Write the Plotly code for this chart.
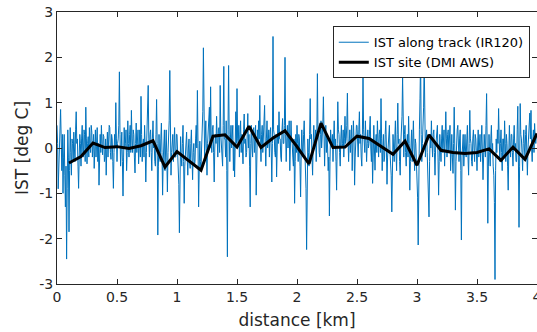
import plotly.graph_objects as go

track_start = 0.0
track_step = 0.005
track_ist = [
    0.5, 0.1, -0.9, -0.3, 0.2, 0.6, 0.85, 0.2, -0.5, 0.3, -1.0, -0.2, 0.3, -0.6, -1.3, -0.4, -2.45, -0.9, 0.4, -0.2,
    -1.85, -0.5, 0.45, -0.1, -0.6, 0.2, 0.1, -0.3, 0.35, 0.0, -0.3, 0.4, 0.8, 0.1, 0.2, -0.4, -0.89, -0.2, 0.3, 0.1,
    -0.4, 0.2, 0.5, -0.1, -0.2, 0.4, 0.3, -0.3, 0.9, 0.2, -0.35, 0.1, 0.25, -0.2, 0.45, 0.0, -0.1, 0.5, 0.35, -0.2,
    0.1, 0.3, -0.45, 0.0, 0.4, -0.2, 0.15, 0.45, -0.3, 0.1, -0.82, -0.2, 0.3, -0.1, 0.5, 0.1, -0.15, 0.3, 0.25, -0.3,
    -0.2, 0.2, -0.6, 0.0, 0.35, -0.2, 0.1, 0.5, 0.45, -0.1, -0.25, 0.3, 0.2, -0.3, -0.89, -0.1, 0.3, 0.0, 1.0, 0.2,
    -0.3, 0.1, 0.2, 0.5, 1.68, 0.3, -0.4, 0.0, 0.35, -0.3, -1.06, -0.2, 0.45, 0.0, 0.1, 0.4, -0.5, -0.1, 0.6, 0.1,
    -0.2, 0.3, 0.5, -0.1, 0.83, 0.2, -0.1, 0.4, 0.3, -0.2, -0.55, 0.1, 0.55, -0.1, 0.2, 0.4, -0.35, 0.0, 0.4, -0.2,
    1.14, 0.3, -0.3, 0.1, 0.2, -0.2, 0.5, 0.0, -0.75, -0.1, 0.3, 0.6, 1.38, 0.2, -0.2, 0.3, 0.4, -0.1, -0.5, 0.2,
    0.6, 0.0, 0.1, -0.3, -0.4, 0.3, 1.07, 0.1, -1.92, -0.4, 0.3, -0.2, -0.3, 0.2, 0.55, -0.1, -1.04, -0.3, 0.2, 0.4,
    -0.5, 0.1, 0.4, -0.2, -0.97, -0.1, 0.3, 0.6, 1.71, 0.2, -0.6, -0.1, 0.1, 0.3, -0.3, 0.1, 0.45, -0.2, -0.2, 0.3,
    0.3, -0.1, -0.5, -0.8, -1.87, -0.3, 0.25, -0.2, -0.4, 0.1, 0.5, -0.3, -1.22, -0.4, -0.1, 0.2, 0.35, -0.2, -0.6, 0.0,
    0.2, -0.3, -0.45, 0.1, 0.4, -0.2, -0.7, -0.1, 0.1, -0.4, -0.3, 0.2, 0.5, 0.0, 1.27, 0.1, -1.3, -0.5, 0.15, -0.3,
    -0.5, 0.0, 0.4, 0.8, 2.21, 0.3, -0.2, 0.2, 0.6, -0.1, -0.6, 0.1, 0.3, 0.5, 0.9, 0.0, 1.35, 0.2, -0.1, 0.4,
    0.5, -0.1, -0.75, 0.0, 0.3, 0.1, 0.7, 0.2, -0.2, 0.4, 0.45, -0.1, 1.38, 0.3, 0.1, -0.2, -0.4, 0.5, 1.8, 0.2,
    0.2, -0.2, 0.6, -0.5, -2.4, 0.4, 1.82, 0.3, -0.3, 0.2, 0.5, 0.0, 0.2, 0.5, -0.5, 0.1, -0.64, 0.2, 0.8, 0.1,
    1.31, 0.2, 0.1, 0.5, -0.2, 0.3, 0.6, -0.1, 0.3, 0.0, -0.35, 0.4, 0.75, 0.1, 0.2, -0.2, -0.1, 0.3, 0.76, 0.0,
    0.3, -0.4, -1.3, 0.1, 0.5, 0.0, -0.2, 0.4, 0.45, -0.1, 0.1, 0.5, -1.04, -0.2, 0.4, 0.1, 0.6, 0.2, 1.16, 0.1,
    -0.3, 0.3, 0.5, -0.1, 0.2, 0.6, 0.94, 0.1, -0.4, 0.2, 0.6, 0.0, 0.1, 0.4, -0.2, 0.3, 0.45, 0.0, -0.75, 0.1,
    2.46, 0.4, 0.3, -0.1, -0.2, 0.3, -0.64, 0.0, 0.5, 0.1, 0.8, 0.2, 0.2, -0.2, -0.3, 0.4, 0.65, 0.1, 0.1, 0.5,
    2.0, 0.3, -0.3, 0.2, 0.5, 0.0, 0.2, 0.6, -0.5, 0.1, 0.6, 0.2, 0.1, -0.2, -0.4, 0.2, -1.22, -0.3, 0.3, -0.1,
    0.5, 0.1, -0.3, 0.3, 0.2, -0.4, -1.08, -0.1, 0.4, 0.0, -0.2, 0.3, 0.6, 0.0, -0.5, -0.9, -2.24, -0.4, 0.2, -0.1,
    -0.4, 0.3, 1.09, 0.2, 0.3, -0.2, -0.6, 0.1, 0.5, 0.0, 0.1, 0.4, -0.3, 0.2, 1.64, 0.3, 0.4, -0.1, -0.2, 0.3,
    0.6, 0.0, 0.2, 0.5, 1.13, 0.1, -0.4, 0.2, 0.5, -0.1, 0.3, 0.0, -0.5, -0.2, -1.5, -0.3, 0.4, 0.1, 0.1, 0.3,
    -0.3, 0.2, 0.6, 0.0, 0.2, -0.3, -0.93, 0.1, 1.02, 0.4, 0.3, -0.1, -0.4, 0.2, 0.5, 0.0, 0.1, 0.4, -0.2, 0.2,
    0.7, 0.1, 0.2, 0.5, 1.21, 0.2, -0.3, 0.1, 0.4, -0.1, 0.1, 0.5, -0.5, 0.0, 0.6, 0.2, -0.82, -0.2, 0.3, 0.5,
    0.5, 0.0, -0.2, 0.4, 0.8, 0.1, 0.3, -0.2, -0.4, 0.3, 1.64, 0.4, 0.2, -0.1, 0.6, 0.2, -0.3, 0.1, 0.4, 0.0,
    0.1, 0.4, 0.7, 0.0, -0.3, 0.2, -0.78, -0.2, 0.5, 0.0, -0.49, 0.1, 0.3, -0.1, 0.6, 0.2, -0.2, 0.3, 0.4, -0.1,
    1.09, 0.2, -0.5, 0.0, 0.3, -0.3, -0.2, 0.3, 0.6, 0.0, -0.8, -0.2, 0.2, 0.5, 0.5, -0.1, -0.4, -0.6, -1.41, -0.2,
    0.3, 0.0, -0.3, 0.2, 0.6, -0.1, -0.5, 0.3, 0.99, 0.1, 0.2, -0.3, -0.6, 0.1, 0.4, 0.7, 1.57, 0.2, -0.2, 0.3,
    0.5, -0.1, -0.4, 0.1, 0.3, -0.2, 0.7, 0.1, -0.93, -0.3, 0.2, 0.4, -0.3, 0.1, 0.6, 0.0, -0.5, 0.2, 0.1, -0.3,
    -0.6, -1.1, -2.14, -0.2, 0.4, 1.1, 2.0, 0.3, -0.3, 0.1, 0.5, 0.9, 1.95, 0.2, -0.2, 0.3, 0.4, -0.1, -0.5, -0.8,
    -1.52, -0.3, 0.3, 0.0, 0.6, 0.1, -0.2, 0.3, 0.4, -0.1, -0.6, 0.0, 0.2, 0.5, 0.5, -0.2, -1.04, -0.3, 0.3, 0.0,
    -0.3, 0.2, 0.5, -0.1, 0.1, 0.4, -0.4, 0.1, 0.8, 0.2, -0.2, 0.3, 0.4, -0.1, 0.1, 0.5, -0.5, 0.0, 0.3, -0.2,
    -0.56, 0.1, 0.9, 0.0, -1.37, -0.3, 0.2, 0.4, 0.5, -0.1, -0.3, 0.2, 0.4, -0.5, -2.03, -0.2, 0.1, 0.3, -0.4, 0.1,
    0.3, -0.1, -0.2, 0.2, 0.5, -0.2, -0.6, 0.1, 0.83, 0.2, 0.1, -0.3, -0.4, 0.2, 0.4, 0.0, -0.3, 0.3, 0.2, -0.1,
    -0.5, 0.0, 0.4, -0.2, 0.1, 0.3, -0.3, 0.2, 0.5, -0.1, -0.7, -0.2, 0.3, 0.0, -0.2, 0.5, 1.2, 0.0, -1.66, -0.4,
    0.3, -0.1, -0.4, 0.2, 0.5, -0.1, 0.1, -0.4, -0.6, -1.2, -2.9, -0.5, 0.2, -0.1, 0.4, 0.1, 0.87, 0.2, -0.3, 0.1,
    0.4, -0.1, -0.5, 0.2, 0.2, -0.2, 0.6, 0.1, -0.3, 0.3, 0.1, -0.4, -0.93, -0.1, 0.5, 0.0, -0.2, 0.3, 0.3, -0.1,
    -0.4, 0.2, 0.5, 0.0, 0.1, -0.3, -0.3, 0.4, 0.92, -0.2, -1.75, -0.4, 0.98, 0.3, 0.2, -0.1, -0.5, 0.1, 0.4, 0.0,
    -0.2, 0.3, 0.5, -0.1, -0.6, 0.0, 0.3, 0.5, 0.77, 0.2, 0.83, 0.0, -0.3, 0.2, 0.4, -0.1, 0.54, 0.2, 0.1, 0.3,
]
track_km = [round(track_start + i * track_step, 4) for i in range(len(track_ist))]

# black series: station IST
site_km = [0.1, 0.2, 0.3, 0.4, 0.5, 0.6, 0.7, 0.8, 0.9, 1.0, 1.2, 1.3, 1.4, 1.5,
           1.6, 1.7, 1.8, 1.9, 2.0, 2.1, 2.2, 2.3, 2.4, 2.5, 2.6, 2.7, 2.8, 2.9,
           3.0, 3.1, 3.2, 3.3, 3.4, 3.5, 3.6, 3.7, 3.8, 3.9, 4.0]
site_ist = [-0.33, -0.19, 0.11, 0.01, 0.03, -0.01, 0.05, 0.16, -0.42, -0.08,
            -0.49, 0.26, 0.29, 0.02, 0.48, 0.01, 0.22, 0.38, 0.03, -0.35,
            0.55, 0.01, 0.02, 0.26, 0.21, 0.04, -0.14, 0.15, -0.38, 0.29,
            -0.05, -0.1, -0.12, -0.1, -0.02, -0.27, 0.02, -0.25, 0.32]

x_ticks = [0, 0.5, 1, 1.5, 2, 2.5, 3, 3.5, 4]
x_tick_labels = ["0", "0.5", "1", "1.5", "2", "2.5", "3", "3.5", "4"]
y_ticks = [-3, -2, -1, 0, 1, 2, 3]
y_tick_labels = ["-3", "-2", "-1", "0", "1", "2", "3"]

AX = "#262626"
FONT = "DejaVu Sans"

fig = go.Figure()
fig.add_trace(go.Scatter(x=track_km, y=track_ist, mode="lines",
                         name="IST along track (IR120)",
                         line=dict(color="#0072BD", width=1)))
fig.add_trace(go.Scatter(x=site_km, y=site_ist, mode="lines",
                         name="IST site (DMI AWS)",
                         line=dict(color="#000000", width=3)))

axis_common = dict(showline=True, linecolor=AX, linewidth=1, mirror="ticks",
                   ticks="inside", ticklen=5, tickcolor=AX, showgrid=False,
                   zeroline=False, automargin=False, ticklabeloverflow="allow",
                   tickfont=dict(family=FONT, size=14, color=AX))

fig.update_xaxes(range=[0, 4], tickvals=x_ticks, ticktext=x_tick_labels,
                 title=dict(text="distance [km]", font=dict(family=FONT, size=17, color=AX),
                            standoff=10),
                 **axis_common)
fig.update_yaxes(range=[-3, 3], tickvals=y_ticks, ticktext=y_tick_labels,
                 title=dict(text="IST [deg C]", font=dict(family=FONT, size=17, color=AX),
                            standoff=6),
                 **axis_common)

fig.update_layout(
    width=537, height=332,
    margin=dict(l=57, r=0, t=12, b=48),
    paper_bgcolor="white", plot_bgcolor="white",
    font=dict(family=FONT, color=AX),
    showlegend=True,
    hovermode=False,
    legend=dict(x=0.985, y=0.9475, xanchor="right", yanchor="top",
                bgcolor="white", bordercolor=AX, borderwidth=1,
                font=dict(family=FONT, size=13, color="#000000"),
                tracegroupgap=0, itemwidth=30),
)

fig.write_html("out.html", config={"displayModeBar": False, "staticPlot": True},
               post_script="document.body.style.margin='0';document.body.style.overflow='hidden';")
